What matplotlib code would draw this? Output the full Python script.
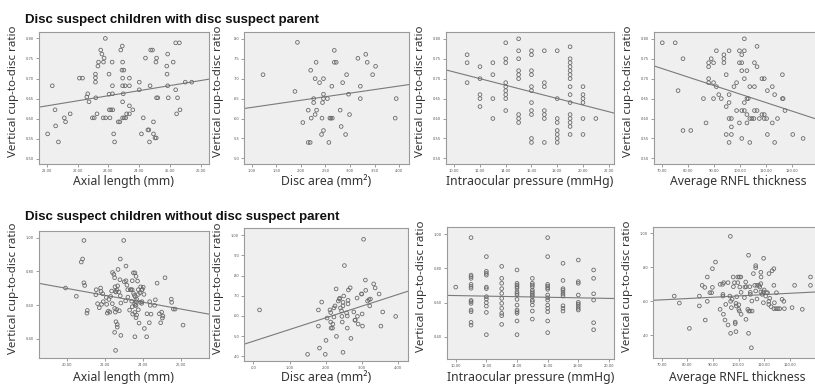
import matplotlib
matplotlib.use("Agg")
import matplotlib.pyplot as plt
import numpy as np
from matplotlib.ticker import FuncFormatter

# --- data (x, vertical cup-to-disc ratio) ---

par_axial = [
    (21.03, 0.562), (21.18, 0.682), (21.27, 0.622), (21.29, 0.582), (21.38, 0.542), (21.57, 0.602),
    (21.61, 0.592), (21.76, 0.612), (22.06, 0.701), (22.16, 0.701), (22.30, 0.654), (22.33, 0.662),
    (22.37, 0.642), (22.48, 0.602), (22.54, 0.602), (22.58, 0.711), (22.58, 0.702), (22.58, 0.691),
    (22.59, 0.652), (22.63, 0.612), (22.66, 0.731), (22.68, 0.741), (22.75, 0.771), (22.79, 0.761),
    (22.84, 0.741), (22.86, 0.751), (22.90, 0.800), (22.83, 0.602), (22.91, 0.602), (23.02, 0.711),
    (23.02, 0.661), (23.03, 0.622), (23.08, 0.622), (23.14, 0.622), (23.05, 0.602), (23.12, 0.741),
    (23.13, 0.682), (23.13, 0.662), (23.17, 0.562), (23.20, 0.542), (23.32, 0.592), (23.37, 0.592),
    (23.40, 0.771), (23.45, 0.781), (23.44, 0.721), (23.50, 0.721), (23.46, 0.741), (23.46, 0.701),
    (23.46, 0.682), (23.54, 0.682), (23.46, 0.642), (23.48, 0.662), (23.46, 0.602), (23.51, 0.602),
    (23.56, 0.602), (23.59, 0.612), (23.68, 0.701), (23.68, 0.682), (23.68, 0.632), (23.68, 0.612),
    (23.79, 0.622), (24.00, 0.691), (24.00, 0.672), (24.07, 0.562), (24.13, 0.602), (24.20, 0.751),
    (24.28, 0.572), (24.31, 0.572), (24.33, 0.542), (24.35, 0.682), (24.37, 0.771), (24.43, 0.771),
    (24.46, 0.592), (24.46, 0.562), (24.51, 0.552), (24.55, 0.552), (24.54, 0.741), (24.56, 0.751),
    (24.56, 0.652), (24.60, 0.652), (24.89, 0.731), (24.90, 0.711), (24.92, 0.682), (24.92, 0.761),
    (24.94, 0.652), (25.10, 0.741), (25.18, 0.789), (25.30, 0.789), (25.18, 0.672), (25.21, 0.612),
    (25.24, 0.652), (25.32, 0.622), (25.49, 0.691), (25.70, 0.691),
]

par_disc = [
    (1.23, 0.710), (1.93, 0.791), (1.88, 0.668), (2.20, 0.721), (2.31, 0.741), (2.29, 0.700),
    (2.38, 0.690), (2.46, 0.700), (2.68, 0.771), (2.68, 0.741), (2.72, 0.741), (2.63, 0.681),
    (2.85, 0.690), (2.93, 0.710), (3.16, 0.751), (3.32, 0.761), (3.35, 0.741), (3.46, 0.710),
    (3.52, 0.731), (3.21, 0.681), (3.21, 0.650), (2.97, 0.661), (2.99, 0.610), (2.80, 0.621),
    (2.82, 0.580), (2.91, 0.560), (2.59, 0.601), (2.61, 0.601), (2.64, 0.601), (2.57, 0.540),
    (2.54, 0.650), (2.44, 0.640), (2.46, 0.661), (2.46, 0.650), (2.43, 0.601), (2.46, 0.570),
    (2.42, 0.560), (2.26, 0.650), (2.26, 0.640), (2.15, 0.621), (2.32, 0.621), (2.29, 0.610),
    (2.21, 0.601), (2.04, 0.590), (2.15, 0.540), (2.19, 0.540), (3.94, 0.650), (3.92, 0.601),
]

par_iop = [
    (11, 0.760), (11, 0.740), (11, 0.690),
    (12, 0.730), (12, 0.700), (12, 0.660), (12, 0.650), (12, 0.630),
    (13, 0.740), (13, 0.710), (13, 0.650), (13, 0.600),
    (14, 0.790), (14, 0.750), (14, 0.740), (14, 0.690), (14, 0.680), (14, 0.670), (14, 0.660),
    (14, 0.650), (14, 0.620),
    (15, 0.800), (15, 0.770), (15, 0.750), (15, 0.720), (15, 0.710), (15, 0.700), (15, 0.610),
    (15, 0.600), (15, 0.590),
    (16, 0.770), (16, 0.760), (16, 0.720), (16, 0.710), (16, 0.680), (16, 0.670), (16, 0.640),
    (16, 0.620), (16, 0.610), (16, 0.550), (16, 0.540),
    (17, 0.770), (17, 0.690), (17, 0.680), (17, 0.620), (17, 0.610), (17, 0.600), (17, 0.540),
    (18, 0.770), (18, 0.650), (18, 0.600), (18, 0.590), (18, 0.570), (18, 0.560), (18, 0.550),
    (18, 0.540),
    (19, 0.780), (19, 0.750), (19, 0.740), (19, 0.730), (19, 0.720), (19, 0.710), (19, 0.700),
    (19, 0.680), (19, 0.660), (19, 0.640), (19, 0.610), (19, 0.600), (19, 0.590), (19, 0.580),
    (19, 0.560),
    (20, 0.680), (20, 0.660), (20, 0.650), (20, 0.640), (20, 0.600), (20, 0.560),
    (21, 0.600),
]

par_rnfl = [
    (70.0, 0.790), (75.0, 0.790), (76.1, 0.670), (78.0, 0.750), (78.0, 0.570), (81.0, 0.570),
    (85.9, 0.650), (86.9, 0.589), (87.9, 0.740), (87.9, 0.730), (87.9, 0.700), (87.9, 0.690),
    (88.9, 0.750), (89.8, 0.740), (89.8, 0.690), (89.8, 0.650), (90.9, 0.770), (90.9, 0.680),
    (91.8, 0.660), (92.8, 0.650), (93.8, 0.760), (93.8, 0.750), (93.8, 0.740), (94.7, 0.710),
    (94.7, 0.630), (94.7, 0.560), (95.8, 0.770), (95.8, 0.660), (95.8, 0.640), (95.8, 0.600),
    (96.7, 0.600), (95.8, 0.540), (96.7, 0.579), (96.7, 0.560), (97.7, 0.680), (98.7, 0.690),
    (98.7, 0.620), (99.8, 0.770), (99.8, 0.740), (100.7, 0.740), (99.8, 0.589), (100.7, 0.760),
    (100.7, 0.720), (100.7, 0.620), (101.7, 0.620), (100.7, 0.550), (101.7, 0.800), (101.7, 0.770),
    (101.7, 0.700), (101.7, 0.640), (102.7, 0.720), (102.7, 0.650), (103.2, 0.650), (102.7, 0.610),
    (102.7, 0.589), (103.8, 0.680), (103.8, 0.600), (104.6, 0.600), (105.4, 0.600), (103.8, 0.540),
    (105.6, 0.740), (105.6, 0.680), (105.6, 0.620), (106.6, 0.620), (106.6, 0.781), (106.6, 0.730),
    (107.5, 0.600), (108.5, 0.700), (109.4, 0.700), (108.5, 0.610), (109.4, 0.610), (109.4, 0.600),
    (110.3, 0.600), (110.6, 0.670), (110.6, 0.560), (112.5, 0.680), (112.5, 0.589), (113.4, 0.660),
    (113.4, 0.540), (114.5, 0.600), (116.4, 0.710), (116.4, 0.650), (116.7, 0.650), (117.4, 0.620),
    (120.4, 0.560), (124.4, 0.550),
]

nopar_axial = [
    (19.91, 0.702), (20.48, 0.653), (20.88, 0.984), (20.74, 0.856), (20.81, 0.874), (20.88, 0.733),
    (20.92, 0.717), (21.06, 0.569), (21.04, 0.553), (21.53, 0.692), (21.51, 0.662), (21.60, 0.609),
    (21.76, 0.702), (21.78, 0.682), (21.69, 0.585), (21.87, 0.668), (21.81, 0.605), (21.90, 0.621),
    (22.06, 0.646), (22.11, 0.553), (22.08, 0.605), (22.17, 0.565), (22.20, 0.634), (22.25, 0.559),
    (22.29, 0.652), (22.34, 0.684), (22.38, 0.609), (22.39, 0.794), (22.46, 0.783), (22.50, 0.763),
    (22.52, 0.709), (22.54, 0.682), (22.57, 0.678), (22.62, 0.690), (22.66, 0.715), (22.68, 0.812),
    (22.73, 0.678), (22.50, 0.581), (22.54, 0.559), (22.61, 0.575), (22.57, 0.502), (22.64, 0.486),
    (22.64, 0.470), (22.50, 0.439), (22.55, 0.332), (22.80, 0.874), (22.78, 0.751), (22.80, 0.656),
    (22.83, 0.613), (22.83, 0.421), (22.75, 0.567), (22.98, 0.984), (23.01, 0.739), (23.10, 0.832),
    (23.10, 0.745), (23.15, 0.719), (23.19, 0.692), (23.08, 0.626), (23.20, 0.648), (23.29, 0.571),
    (23.33, 0.692), (23.36, 0.692), (23.43, 0.692), (23.43, 0.745), (23.40, 0.624), (23.43, 0.591),
    (23.45, 0.547), (23.49, 0.792), (23.57, 0.792), (23.63, 0.771), (23.50, 0.670), (23.54, 0.658),
    (23.56, 0.609), (23.59, 0.599), (23.63, 0.599), (23.59, 0.650), (23.64, 0.621), (23.66, 0.636),
    (23.71, 0.743), (23.75, 0.692), (23.75, 0.664), (23.84, 0.674), (23.87, 0.709), (23.93, 0.690),
    (23.96, 0.694), (24.01, 0.707), (24.05, 0.664), (23.94, 0.621), (23.86, 0.617), (23.93, 0.611),
    (23.56, 0.557), (23.75, 0.573), (23.66, 0.542), (23.63, 0.526), (23.79, 0.494), (23.57, 0.413),
    (24.07, 0.462), (24.19, 0.413), (24.21, 0.549), (24.35, 0.621), (24.38, 0.599), (24.42, 0.547),
    (24.33, 0.496), (24.65, 0.632), (24.74, 0.731), (24.61, 0.599), (24.86, 0.549), (24.93, 0.496),
    (24.98, 0.559), (25.02, 0.524), (25.05, 0.536), (25.16, 0.763), (25.49, 0.636), (25.51, 0.617),
    (25.60, 0.577), (25.69, 0.577), (26.11, 0.482),
]

nopar_disc = [
    (0.17, 0.630), (1.50, 0.410), (1.80, 0.630), (1.80, 0.550), (1.83, 0.441), (1.89, 0.669),
    (2.01, 0.479), (1.99, 0.410), (2.04, 0.590), (2.12, 0.630), (2.14, 0.617), (2.14, 0.570),
    (2.15, 0.540), (2.19, 0.540), (2.20, 0.560), (2.23, 0.595), (2.23, 0.640), (2.26, 0.650),
    (2.29, 0.734), (2.30, 0.499), (2.35, 0.674), (2.38, 0.684), (2.39, 0.688), (2.41, 0.640),
    (2.44, 0.625), (2.45, 0.598), (2.46, 0.570), (2.48, 0.650), (2.48, 0.668), (2.50, 0.699),
    (2.52, 0.850), (2.48, 0.420), (2.58, 0.615), (2.60, 0.600), (2.60, 0.540), (2.62, 0.660),
    (2.62, 0.678), (2.63, 0.729), (2.68, 0.740), (2.70, 0.489), (2.78, 0.620), (2.81, 0.579),
    (2.82, 0.580), (2.87, 0.689), (2.88, 0.598), (2.90, 0.560), (2.99, 0.709), (3.00, 0.709),
    (3.01, 0.610), (3.02, 0.550), (3.05, 0.980), (3.10, 0.778), (3.11, 0.727), (3.16, 0.674),
    (3.20, 0.681), (3.22, 0.650), (3.24, 0.684), (3.33, 0.759), (3.37, 0.739), (3.48, 0.709),
    (3.53, 0.550), (3.58, 0.620), (3.94, 0.598),
]

nopar_iop = [
    (10, 0.690),
    (11, 0.979), (11, 0.760), (11, 0.751), (11, 0.741), (11, 0.706), (11, 0.694), (11, 0.683),
    (11, 0.612), (11, 0.605), (11, 0.595), (11, 0.556), (11, 0.546), (11, 0.484), (11, 0.468),
    (12, 0.868), (12, 0.782), (12, 0.770), (12, 0.760), (12, 0.690), (12, 0.681), (12, 0.634),
    (12, 0.620), (12, 0.599), (12, 0.579), (12, 0.542), (12, 0.412),
    (13, 0.811), (13, 0.741), (13, 0.712), (13, 0.681), (13, 0.653), (13, 0.624), (13, 0.595),
    (13, 0.566), (13, 0.537), (13, 0.523), (13, 0.472),
    (14, 0.790), (14, 0.712), (14, 0.702), (14, 0.692), (14, 0.683), (14, 0.663), (14, 0.653),
    (14, 0.644), (14, 0.618), (14, 0.585), (14, 0.556), (14, 0.546), (14, 0.537), (14, 0.492),
    (14, 0.412),
    (15, 0.741), (15, 0.712), (15, 0.702), (15, 0.692), (15, 0.673), (15, 0.663), (15, 0.653),
    (15, 0.644), (15, 0.634), (15, 0.614), (15, 0.605), (15, 0.585), (15, 0.550), (15, 0.503),
    (16, 0.979), (16, 0.868), (16, 0.706), (16, 0.696), (16, 0.686), (16, 0.677), (16, 0.644),
    (16, 0.628), (16, 0.614), (16, 0.585), (16, 0.566), (16, 0.546), (16, 0.492), (16, 0.424),
    (17, 0.829), (17, 0.729), (17, 0.681), (17, 0.673), (17, 0.661), (17, 0.649), (17, 0.638),
    (17, 0.581), (17, 0.566), (17, 0.550),
    (18, 0.848), (18, 0.722), (18, 0.712), (18, 0.644), (18, 0.601), (18, 0.591), (18, 0.579),
    (18, 0.566), (18, 0.556),
    (19, 0.790), (19, 0.741), (19, 0.651), (19, 0.614), (19, 0.482), (19, 0.441),
]

nopar_rnfl = [
    (74.9, 0.631), (76.9, 0.590), (80.8, 0.441), (84.7, 0.573), (84.7, 0.631), (85.8, 0.694),
    (86.8, 0.682), (87.0, 0.490), (87.8, 0.743), (87.8, 0.600), (88.8, 0.651), (89.5, 0.651),
    (89.8, 0.792), (89.8, 0.682), (91.0, 0.831), (92.8, 0.553), (92.8, 0.700), (93.8, 0.700),
    (93.9, 0.641), (93.9, 0.631), (94.2, 0.710), (94.1, 0.524), (94.7, 0.490), (95.0, 0.582),
    (95.9, 0.710), (95.9, 0.461), (96.6, 0.631), (96.8, 0.982), (96.9, 0.412), (96.9, 0.600),
    (97.2, 0.563), (97.5, 0.612), (97.9, 0.743), (98.0, 0.686), (98.4, 0.710), (98.7, 0.478),
    (98.7, 0.469), (99.0, 0.422), (99.0, 0.588), (99.1, 0.573), (99.3, 0.627), (99.7, 0.743),
    (100.3, 0.743), (99.7, 0.710), (100.1, 0.580), (100.1, 0.553), (100.3, 0.543), (100.5, 0.684),
    (100.9, 0.743), (101.0, 0.653), (101.0, 0.524), (102.3, 0.622), (102.5, 0.684), (102.8, 0.714),
    (102.9, 0.494), (103.0, 0.686), (103.6, 0.553), (104.0, 0.543), (104.5, 0.543), (105.3, 0.543),
    (103.9, 0.871), (103.9, 0.412), (104.4, 0.686), (104.6, 0.653), (104.6, 0.641), (105.0, 0.327),
    (105.2, 0.602), (105.8, 0.763), (106.3, 0.694), (106.7, 0.810), (106.7, 0.798), (106.7, 0.661),
    (107.2, 0.694), (108.0, 0.694), (107.2, 0.614), (108.3, 0.684), (108.7, 0.704), (108.7, 0.771),
    (108.7, 0.655), (109.7, 0.655), (108.8, 0.743), (109.2, 0.641), (109.7, 0.592), (109.8, 0.853),
    (110.0, 0.667), (110.6, 0.631), (110.9, 0.651), (111.3, 0.651), (111.8, 0.600), (111.8, 0.582),
    (111.9, 0.763), (112.2, 0.618), (112.7, 0.569), (113.1, 0.780), (113.8, 0.557), (114.6, 0.557),
    (115.4, 0.557), (116.1, 0.557), (113.8, 0.792), (113.8, 0.694), (114.0, 0.592), (114.8, 0.651),
    (117.0, 0.612), (117.7, 0.600), (117.9, 0.557), (120.9, 0.563), (121.9, 0.694), (124.9, 0.553),
    (128.1, 0.743), (128.1, 0.694),
]

# fit lines (intercept, slope)
fit_par = [(0.366, 0.01266), (0.610, 0.0179), (0.7995, -0.00829), (0.874, -0.002126)]
fit_nopar = [(1.106, -0.02034), (0.475, 0.0579), (0.657, -0.00165), (0.5546, 0.000773)]

x_labels = ["Axial length (mm)", "Disc area (mm²)", "Intraocular pressure (mmHg)", "Average RNFL thickness"]
row_titles = ["Disc suspect children with disc suspect parent",
              "Disc suspect children without disc suspect parent"]

W, H = 815, 385
BG = "#efefef"
EDGE = "#9a9a9a"
PT = "#6a6a6a"


def dec(lead):
    def f(v, _):
        s = f"{v:.2f}"
        if not lead and s.startswith("0."):
            s = s[1:]
        return s
    return FuncFormatter(f)


# (left, top, right, bottom) px, xlim, ylim, xticks, yticks, leading zero on x, on y
panels = [
    [((39, 32, 209, 164), (20.75, 26.26), (0.487, 0.816), np.arange(21, 27, 1), np.arange(0.50, 0.81, 0.05), True, True),
     ((244, 32, 409, 164), (0.843, 4.20), (0.486, 0.817), np.arange(1, 4.1, 0.5), np.arange(0.50, 0.81, 0.05), True, False),
     ((446, 32, 614, 164), (9.36, 22.41), (0.486, 0.817), np.arange(10, 23, 2), np.arange(0.50, 0.81, 0.05), True, True),
     ((654, 32, 822, 164), (66.8, 131.7), (0.486, 0.817), np.arange(70, 121, 10), np.arange(0.50, 0.81, 0.05), True, True)],
    [((39, 231, 209, 358), (18.51, 27.48), (0.287, 1.04), np.arange(20, 27, 2), np.arange(0.4, 1.01, 0.2), True, True),
     ((244, 228, 408, 361), (-0.26, 4.28), (0.377, 1.036), np.arange(0, 4.1, 1), np.arange(0.4, 1.01, 0.1), False, False),
     ((447, 227, 614, 359), (9.43, 20.33), (0.27, 1.041), np.arange(10, 21, 2), np.arange(0.4, 1.01, 0.2), True, True),
     ((653, 227, 821, 358), (66.6, 132.2), (0.267, 1.037), np.arange(70, 121, 10), np.arange(0.4, 1.01, 0.2), True, False)],
]

data = [[par_axial, par_disc, par_iop, par_rnfl], [nopar_axial, nopar_disc, nopar_iop, nopar_rnfl]]
fits = [fit_par, fit_nopar]
xlabel_top = [175, 371]  # px where each row's x-label starts

fig = plt.figure(figsize=(W / 100, H / 100), dpi=100)
fig.patch.set_facecolor("white")

for r in range(2):
    for c in range(4):
        (l, t, rr, b), xlim, ylim, xt, yt, xlead, ylead = panels[r][c]
        ax = fig.add_axes([l / W, 1 - b / H, (rr - l) / W, (b - t) / H])
        ax.set_facecolor(BG)
        for s in ax.spines.values():
            s.set_color(EDGE)
            s.set_linewidth(0.8)
        xs, ys = zip(*data[r][c])
        ax.scatter(xs, ys, s=7, facecolors="none", edgecolors=PT, linewidths=0.6, zorder=3)
        a, k = fits[r][c]
        xx = np.array(xlim)
        ax.plot(xx, a + k * xx, color="#7a7a7a", lw=0.8, zorder=2)
        ax.set_xlim(xlim)
        ax.set_ylim(ylim)
        ax.set_xticks(xt)
        ax.set_yticks(yt)
        ax.xaxis.set_major_formatter(dec(xlead))
        ax.yaxis.set_major_formatter(dec(ylead))
        ax.tick_params(labelsize=2.6, labelcolor="#555555", length=2, width=0.5, color="#777777", pad=1.5)
        ax.set_xlabel(x_labels[c], fontsize=8.8, color="#333333", family="Noto Sans")
        ax.xaxis.set_label_coords(0.5, -(xlabel_top[r] - b) / (b - t))
        ax.set_ylabel("Vertical cup-to-disc ratio", fontsize=8.3, color="#333333", family="Noto Sans")
        ax.yaxis.set_label_coords(-20 / (rr - l), 0.55)

for r, ty in enumerate([20, 217]):
    fig.text(25 / W, 1 - ty / H, row_titles[r], fontsize=9.5, fontweight="bold",
             family="Liberation Sans", color="#111111", va="center", ha="left")

fig.savefig("out.png", dpi=100)
